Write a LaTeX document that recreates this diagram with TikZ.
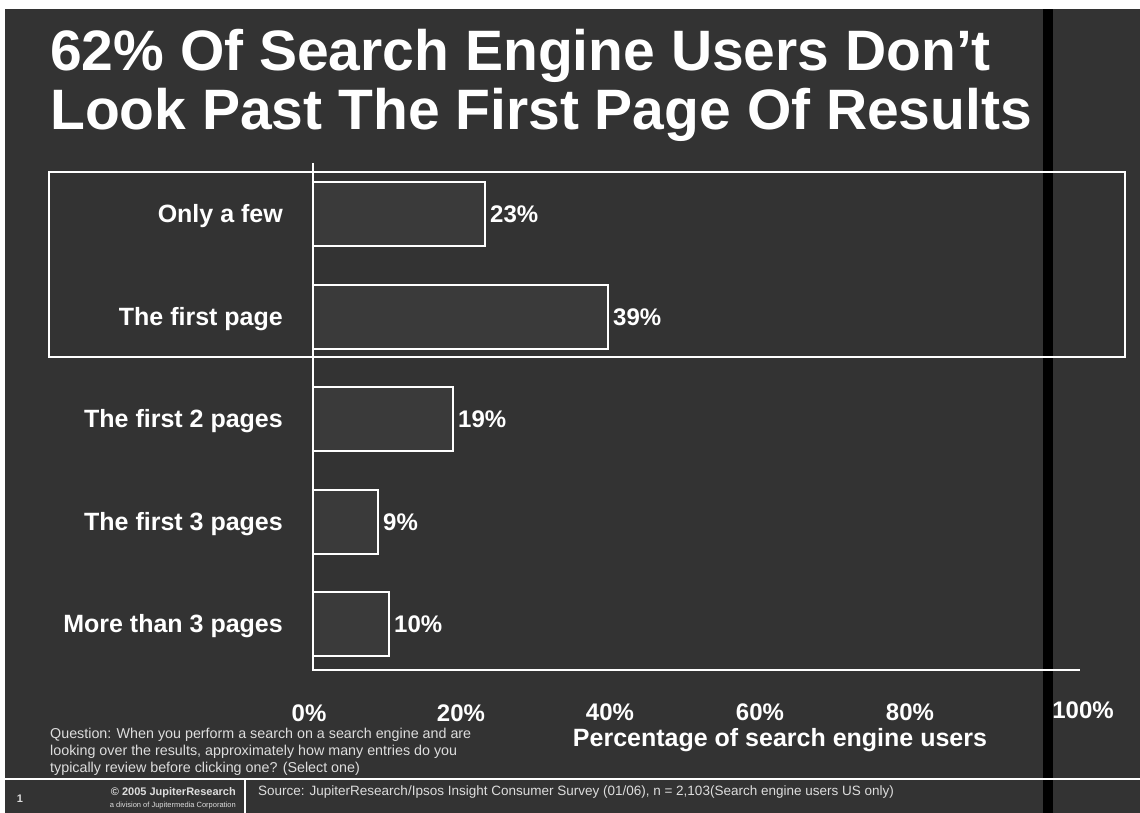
\documentclass[tikz,border=0pt]{standalone}
\usepackage{fontspec}
\setmainfont{Liberation Sans}
\definecolor{slidebg}{HTML}{333333}
\definecolor{barfill}{HTML}{3A3A3A}
\definecolor{notegray}{HTML}{DDDDDD}
\tikzset{
  barbox/.style={draw=white, fill=barfill, line width=1.3pt, minimum height=64pt,
                 anchor=west, inner sep=0pt, outer sep=0pt},
  catlabel/.style={anchor=east, text=white, font=\fontsize{25}{28}\selectfont\bfseries, inner sep=0pt},
  vallabel/.style={anchor=west, text=white, font=\fontsize{24}{27}\selectfont\bfseries, inner sep=0pt, xshift=5pt},
  ticklabel/.style={anchor=base, text=white, font=\fontsize{24}{27}\selectfont\bfseries, inner sep=0pt},
  axisline/.style={draw=white, line width=1.2pt},
  smalltext/.style={anchor=base west, text=notegray, font=\fontsize{14.3}{15}\selectfont, inner sep=0pt}
}
\begin{document}
\begin{tikzpicture}[x=1pt, y=-1pt]
  \useasboundingbox (0,0) rectangle (1140,813);
  % paper and slide background
  \fill[white] (0,0) rectangle (1140,813);
  \fill[slidebg] (5,9) rectangle (1140,813);
  \fill[black] (1043,9) rectangle (1053,813);

  % title
  \node[anchor=base west, text=white, inner sep=0pt,
        font=\fontsize{57}{59}\selectfont\bfseries] (t1) at (50,71)
        {62\% Of Search Engine Users Don’t};
  \node[anchor=base west, text=white, inner sep=0pt,
        font=\fontsize{57}{59}\selectfont\bfseries] (t2) at (50,130)
        {Look Past The First Page Of Results};

  % highlight box around the first two answers
  \draw[white, line width=1.2pt] (49,172) rectangle (1125,357);

  % axes
  \coordinate (ytop) at (313,163);
  \coordinate (origin) at (313,670);
  \coordinate (xend) at (1080,670);
  \draw[axisline] (ytop) -- (origin) -- (xend);

  % bars
  \node[barbox, minimum width=172pt] (b1) at (313,214) {};
  \node[barbox, minimum width=295pt] (b2) at (313,317) {};
  \node[barbox, minimum width=140pt] (b3) at (313,419) {};
  \node[barbox, minimum width=65pt]  (b4) at (313,522) {};
  \node[barbox, minimum width=76pt]  (b5) at (313,624) {};

  % category labels
  \node[catlabel] (c1) at (283,216) {Only a few};
  \node[catlabel] (c2) at (283,319) {The first page};
  \node[catlabel] (c3) at (283,421) {The first 2 pages};
  \node[catlabel] (c4) at (283,524) {The first 3 pages};
  \node[catlabel] (c5) at (283,626) {More than 3 pages};

  % value labels
  \node[vallabel] (v1) at (b1.east) {23\%};
  \node[vallabel] (v2) at (b2.east) {39\%};
  \node[vallabel] (v3) at (b3.east) {19\%};
  \node[vallabel] (v4) at (b4.east) {9\%};
  \node[vallabel] (v5) at (b5.east) {10\%};

  % tick labels
  \node[ticklabel] (k0) at (309,721) {0\%};
  \node[ticklabel] (k1) at (461,721) {20\%};
  \node[ticklabel] (k2) at (610,720) {40\%};
  \node[ticklabel] (k3) at (760,720) {60\%};
  \node[ticklabel] (k4) at (910,720) {80\%};
  \node[ticklabel] (k5) at (1083,718) {100\%};
  \node[ticklabel, font=\fontsize{25}{28}\selectfont\bfseries] (xt) at (780,746)
        {Percentage of search engine users};

  % survey question
  \node[smalltext] (q1) at (50,738) {Question: When you perform a search on a search engine and are};
  \node[smalltext] (q2) at (50,755) {looking over the results, approximately how many entries do you};
  \node[smalltext] (q3) at (50,772) {typically review before clicking one? (Select one)};

  % footer
  \coordinate (fl) at (3,779);
  \coordinate (fr) at (1140,779);
  \draw[white, line width=1.2pt] (fl) -- (fr);
  \coordinate (dt) at (245,779);
  \coordinate (db) at (245,813);
  \draw[white, line width=1.2pt] (dt) -- (db);
  \node[anchor=base, text=notegray, inner sep=0pt, font=\fontsize{11}{12}\selectfont\bfseries] (pg) at (20,802) {1};
  \node[anchor=base east, text=notegray, inner sep=0pt, font=\fontsize{11}{12}\selectfont\bfseries] (cp) at (236,795) {© 2005 JupiterResearch};
  \node[anchor=base east, text=notegray, inner sep=0pt, font=\fontsize{7.5}{8}\selectfont] (dv) at (236,807) {a division of Jupitermedia Corporation};
  \node[smalltext, font=\fontsize{13.5}{14}\selectfont] (src) at (258,795)
        {Source: JupiterResearch/Ipsos Insight Consumer Survey (01/06), n = 2,103(Search engine users US only)};
\end{tikzpicture}
\end{document}
